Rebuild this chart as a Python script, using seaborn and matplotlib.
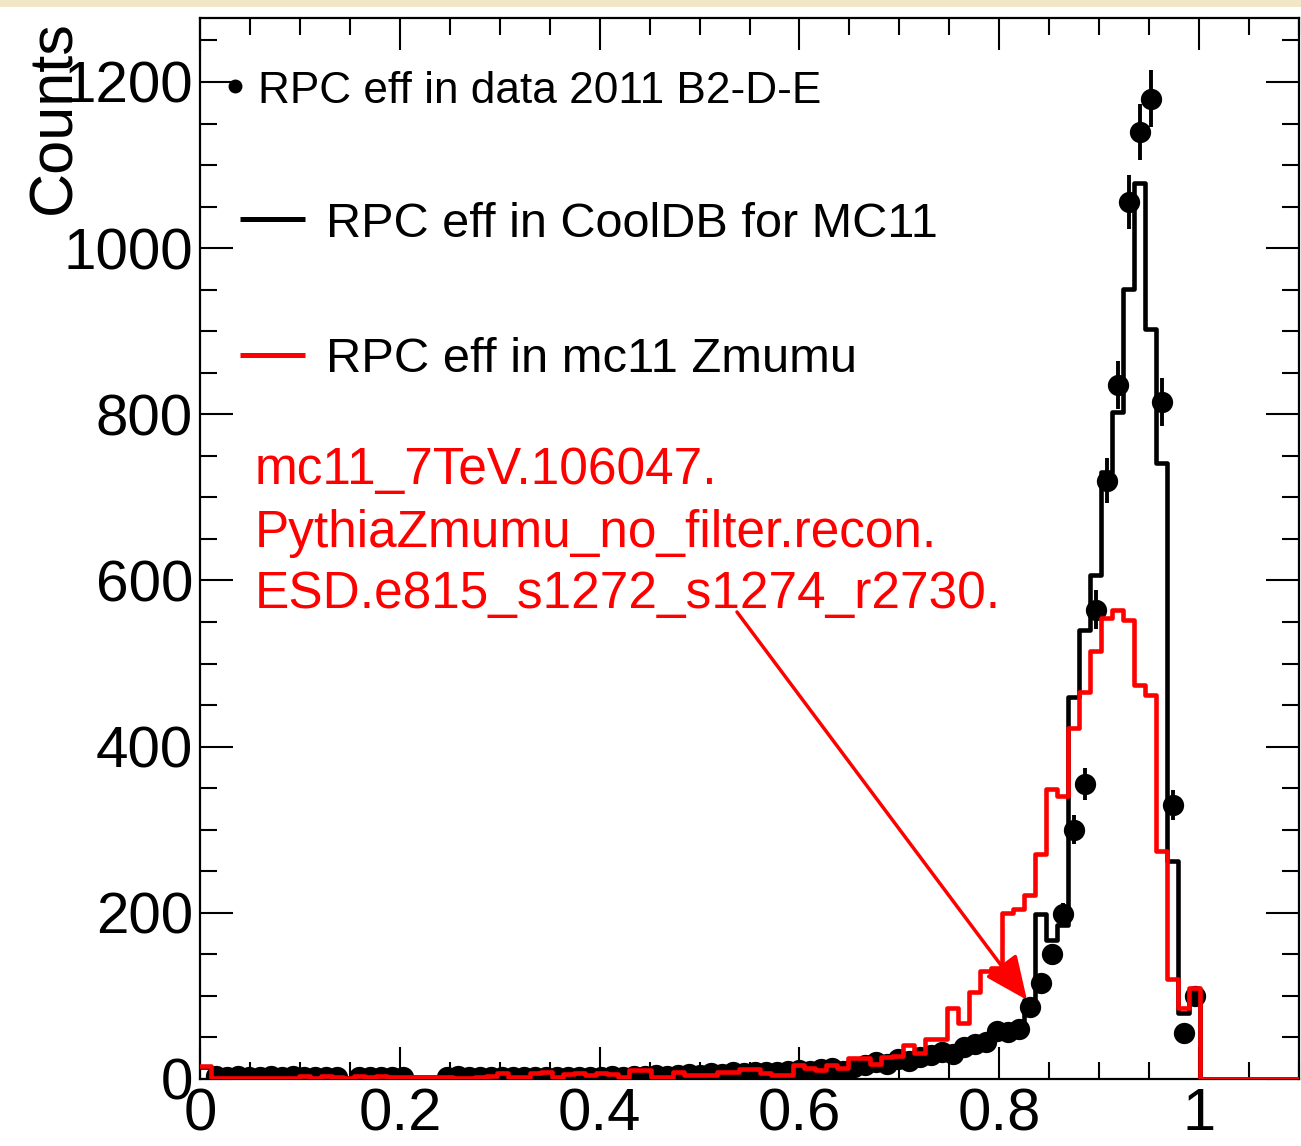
import numpy as np
import pandas as pd
import matplotlib
matplotlib.use("Agg")
import matplotlib.pyplot as plt
from matplotlib.patches import Rectangle
from matplotlib.ticker import MultipleLocator
import seaborn as sns

# ---------------- data (100 bins from 0 to 1.1) ----------------
n_bins = 100
x_range = (0.0, 1.1)

data_2011 = [
    0, 4, 3, 4, 3, 3, 4, 3, 4, 3,
    2, 2, 3, 0, 3, 2, 3, 2, 3, 0,
    0, 0, 3, 4, 2, 2, 3, 2, 3, 2,
    3, 3, 2, 3, 3, 2, 3, 4, 3, 4,
    4, 5, 4, 5, 6, 5, 7, 6, 8, 7,
    8, 9, 8, 10, 11, 10, 12, 13, 10, 14,
    17, 20, 18, 24, 22, 27, 29, 32, 30, 38,
    42, 45, 58, 57, 60, 87, 115, 150, 198, 300,
    355, 565, 720, 835, 1055, 1140, 1180, 815, 330, 55,
    100, 0, 0, 0, 0, 0, 0, 0, 0, 0,
]

cooldb_mc11 = [
    15, 2, 3, 3, 3, 3, 3, 3, 3, 3,
    2, 2, 2, 1, 2, 2, 2, 2, 2, 2,
    2, 2, 2, 3, 2, 2, 3, 2, 2, 2,
    3, 3, 2, 3, 3, 2, 3, 3, 3, 4,
    4, 4, 4, 5, 5, 5, 6, 6, 7, 7,
    8, 8, 8, 9, 10, 10, 11, 12, 12, 14,
    16, 18, 19, 21, 23, 25, 28, 30, 33, 37,
    41, 46, 52, 58, 64, 95, 199, 167, 185, 460,
    541, 607, 730, 803, 951, 1079, 903, 741, 262, 80,
    105, 0, 0, 0, 0, 0, 0, 0, 0, 0,
]

mc11_zmumu = [
    16, 1, 1, 1, 1, 1, 1, 1, 1, 4,
    1, 4, 2, 1, 4, 2, 4, 2, 3, 3,
    3, 3, 2, 1, 1, 3, 4, 7, 3, 3,
    7, 8, 2, 6, 7, 5, 7, 6, 3, 11,
    11, 3, 3, 8, 5, 5, 5, 8, 9, 12,
    12, 7, 5, 5, 17, 13, 11, 17, 13, 25,
    25, 18, 27, 28, 41, 31, 48, 48, 85, 67,
    105, 130, 133, 200, 205, 222, 271, 349, 341, 423,
    466, 515, 555, 565, 552, 474, 462, 275, 120, 86,
    110, 0, 0, 0, 0, 0, 0, 0, 0, 0,
]

x_tick_values = [0, 0.2, 0.4, 0.6, 0.8, 1.0]
x_tick_labels = ["0", "0.2", "0.4", "0.6", "0.8", "1"]
y_tick_values = [0, 200, 400, 600, 800, 1000, 1200]
y_tick_labels = ["0", "200", "400", "600", "800", "1000", "1200"]

legend_labels = ["RPC eff in data 2011 B2-D-E",
                 "RPC eff in CoolDB for MC11",
                 "RPC eff in mc11 Zmumu"]
note_lines = ["mc11_7TeV.106047.",
              "PythiaZmumu_no_filter.recon.",
              "ESD.e815_s1272_s1274_r2730."]

# ---------------- figure ----------------
sns.set_style("ticks")
plt.rcParams['font.family'] = ['Liberation Sans', 'DejaVu Sans']
plt.rcParams['text.color'] = 'black'

W, H = 1301, 1146
fig = plt.figure(figsize=(W / 100, H / 100), dpi=100)
fig.patch.set_facecolor("white")
fig.patches.append(Rectangle((0, 1 - 7 / H), 1, 7 / H, transform=fig.transFigure,
                             facecolor="#f1e7c6", edgecolor="none", zorder=0))

L, R, T, B = 200, 1299, 18, 1079
ax = fig.add_axes([L / W, (H - B) / H, (R - L) / W, (B - T) / H])

bin_edges = np.linspace(x_range[0], x_range[1], n_bins + 1)
centers = 0.5 * (bin_edges[:-1] + bin_edges[1:])
df = pd.DataFrame({"x": centers, "data": data_2011,
                   "cool": cooldb_mc11, "zmumu": mc11_zmumu})
pts = df[df["data"] > 0]

ax.errorbar(pts["x"], pts["data"], yerr=np.sqrt(pts["data"]), fmt="none",
            ecolor="black", elinewidth=2.8, capsize=0, zorder=2)
sns.scatterplot(data=pts, x="x", y="data", ax=ax, color="black", s=235,
                marker="o", linewidth=0, zorder=3, legend=False)
sns.histplot(data=df, x="x", weights="cool", bins=n_bins, binrange=x_range,
             element="step", fill=False, color="black", linewidth=3.3,
             ax=ax, zorder=4)
sns.histplot(data=df, x="x", weights="zmumu", bins=n_bins, binrange=x_range,
             element="step", fill=False, color="red", linewidth=3.3,
             ax=ax, zorder=5)

ax.set_xlim(*x_range)
ax.set_ylim(0, 1277)
ax.set_xlabel("")
ax.set_ylabel("")

ax.set_xticks(x_tick_values)
ax.set_xticklabels(x_tick_labels)
ax.set_yticks(y_tick_values)
ax.set_yticklabels(y_tick_labels)
ax.xaxis.set_minor_locator(MultipleLocator(0.05))
ax.yaxis.set_minor_locator(MultipleLocator(50))
ax.tick_params(which="both", direction="in", top=True, right=True, width=1.5,
               colors="black", labelcolor="black")
ax.tick_params(axis="x", which="major", length=23, labelsize=43, pad=6)
ax.tick_params(axis="y", which="major", length=24, labelsize=42, pad=5)
ax.tick_params(which="minor", length=12)
for s in ax.spines.values():
    s.set_linewidth(1.6)
    s.set_color("black")


def axy(py):
    return (B - py) / (B - T)


def axx(px):
    return (px - L) / (R - L)


ax.text(axx(70), axy(20), "Counts", transform=ax.transAxes,
        rotation=90, ha="right", va="baseline", rotation_mode="anchor",
        fontsize=44, color="black")

ax.plot([axx(235)], [axy(86)], marker="o", color="black", ms=9,
        transform=ax.transAxes, clip_on=False)
ax.text(axx(258), axy(103), legend_labels[0], transform=ax.transAxes,
        fontsize=31.8, va="baseline", ha="left", color="black")
ax.plot([axx(240), axx(305)], [axy(219), axy(219)], color="black", lw=3.6,
        transform=ax.transAxes, solid_capstyle="butt")
ax.text(axx(326), axy(237), legend_labels[1], transform=ax.transAxes,
        fontsize=35, va="baseline", ha="left", color="black")
ax.plot([axx(240), axx(305)], [axy(355), axy(355)], color="red", lw=3.6,
        transform=ax.transAxes, solid_capstyle="butt")
ax.text(axx(326), axy(372), legend_labels[2], transform=ax.transAxes,
        fontsize=35.2, va="baseline", ha="left", color="black")

for line, base in zip(note_lines, [484, 547, 608]):
    ax.text(axx(255), axy(base), line, transform=ax.transAxes, fontsize=37,
            color="red", va="baseline", ha="left")

ax.annotate("", xy=(axx(1027), axy(1000)), xytext=(axx(737), axy(612)),
            xycoords="axes fraction", textcoords="axes fraction",
            arrowprops=dict(arrowstyle="-|>,head_length=0.9,head_width=0.4",
                            color="red", lw=2.5, mutation_scale=30,
                            shrinkA=0, shrinkB=0))

fig.savefig("out.png", dpi=100)
